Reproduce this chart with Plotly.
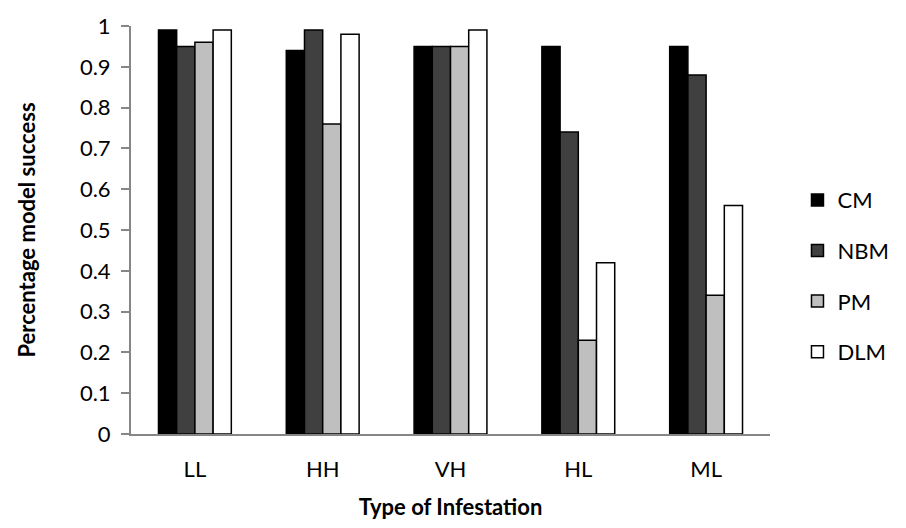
import plotly.graph_objects as go

categories = ["LL", "HH", "VH", "HL", "ML"]
series_names = ["CM", "NBM", "PM", "DLM"]
cm = [0.99, 0.94, 0.95, 0.95, 0.95]
nbm = [0.95, 0.99, 0.95, 0.74, 0.88]
pm = [0.96, 0.76, 0.95, 0.23, 0.34]
dlm = [0.99, 0.98, 0.99, 0.42, 0.56]
y_ticks = [0, 0.1, 0.2, 0.3, 0.4, 0.5, 0.6, 0.7, 0.8, 0.9, 1]
y_tick_labels = ["0", "0.1", "0.2", "0.3", "0.4", "0.5", "0.6", "0.7", "0.8", "0.9", "1"]

fills = ["#000000", "#404040", "#bfbfbf", "#ffffff"]
FONT = "Lato, 'Open Sans', sans-serif"
FS = 22

fig = go.Figure()
for name, vals, fill in zip(series_names, [cm, nbm, pm, dlm], fills):
    fig.add_trace(go.Bar(
        x=categories, y=vals, name=name, legendgroup=name,
        marker=dict(color=fill, line=dict(color="#000000", width=1.5)),
    ))

axis_gray = "#868686"
fig.update_layout(
    width=906, height=528,
    margin=dict(l=131, r=119, t=16, b=90),
    paper_bgcolor="white", plot_bgcolor="white",
    barmode="group", bargap=0.43, bargroupgap=0,
    font=dict(family=FONT, size=FS, color="#000000"),
    showlegend=True,
    legend=dict(
        x=1.043, y=0.387, xanchor="left", yanchor="middle",
        font=dict(family=FONT, size=FS, color="#000000"),
        tracegroupgap=19, bgcolor="rgba(0,0,0,0)",
    ),
    xaxis=dict(
        showline=True, linecolor=axis_gray, linewidth=2,
        ticks="", showgrid=False, zeroline=False,
        tickfont=dict(family=FONT, size=FS),
        ticklabelstandoff=15,
        title=dict(text="<b>Type of Infestation</b>", standoff=18,
                   font=dict(family=FONT, size=FS)),
    ),
    yaxis=dict(
        range=[0, 1], tickvals=y_ticks, ticktext=y_tick_labels,
        showline=True, linecolor=axis_gray, linewidth=2,
        ticks="outside", ticklen=8, tickcolor=axis_gray, tickwidth=1.5,
        showgrid=False, zeroline=False,
        tickfont=dict(family=FONT, size=FS),
        ticklabelstandoff=6,
        title=dict(text="<b>Percentage model success</b>", standoff=38,
                   font=dict(family=FONT, size=FS)),
    ),
)

fig.write_html("out.html")
